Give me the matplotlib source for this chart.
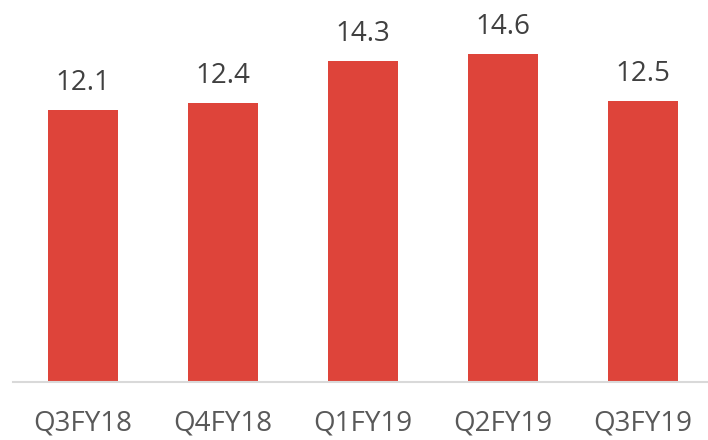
import matplotlib
matplotlib.use("Agg")
import matplotlib.pyplot as plt

quarters = ["Q3FY18", "Q4FY18", "Q1FY19", "Q2FY19", "Q3FY19"]
values = [12.1, 12.4, 14.3, 14.6, 12.5]

plt.rcParams['font.family'] = ['Open Sans', 'DejaVu Sans']

fig = plt.figure(figsize=(7.08, 4.40), dpi=100)
# plot area runs a little past the right edge, like the original crop
ax = fig.add_axes([13 / 708, 58 / 440, 695 / 708, 382 / 440])

x = range(len(quarters))
bars = ax.bar(x, values, width=0.5, color="#DE443A", zorder=2)

for b, v in zip(bars, values):
    ax.annotate(f"{v:.1f}", (b.get_x() + b.get_width() / 2, v),
                xytext=(0, 14.4), textcoords="offset points",
                ha="center", va="baseline", fontsize=20, color="#404040")

ax.set_xlim(-0.5, -0.5 + 695 / 140)
ax.set_ylim(0, 17)
ax.set_xticks(list(x))
ax.set_xticklabels(quarters, fontsize=20, color="#595959")
ax.tick_params(axis="x", length=0, pad=20)
ax.set_yticks([])

for s in ["top", "right", "left"]:
    ax.spines[s].set_visible(False)
ax.spines["bottom"].set_color("#D9D9D9")
ax.spines["bottom"].set_linewidth(1.5)
ax.spines["bottom"].set_zorder(3)

fig.savefig("out.png", dpi=100)
